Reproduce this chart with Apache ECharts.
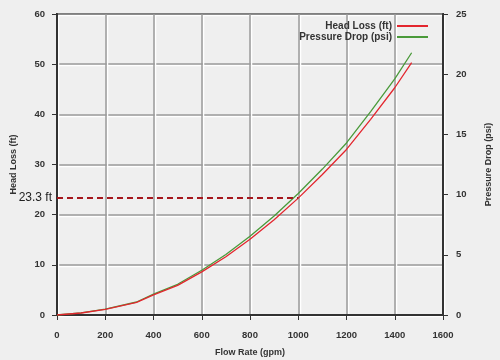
<!DOCTYPE html>
<html>
<head>
<meta charset="utf-8">
<script src="https://cdn.jsdelivr.net/npm/echarts@6/dist/echarts.min.js"></script>
<style>
html,body{margin:0;padding:0;background:#efefef;}
#c{width:500px;height:360px;}
</style>
</head>
<body>
<div id="c"></div>
<script>
var flowRate = [0, 100, 200, 330, 400, 500, 600, 700, 800, 900, 1000, 1100, 1200, 1300, 1400, 1470];
var headLoss = [0, 0.4, 1.1, 2.5, 4.0, 5.9, 8.6, 11.6, 15.1, 19.0, 23.3, 28.0, 33.0, 39.0, 45.3, 50.3];
var pressureDrop = [0, 0.17, 0.48, 1.08, 1.73, 2.55, 3.72, 5.02, 6.54, 8.23, 10.09, 12.12, 14.29, 16.89, 19.61, 21.78];
var markFlow = 1000;
var markHead = 23.3;
var markLabel = '23.3 ft';
var seriesNames = ['Head Loss (ft)', 'Pressure Drop (psi)'];

function pairs(xs, ys){ return xs.map(function(x,i){ return [x, ys[i]]; }); }

var font = 'Liberation Sans, Arial, sans-serif';
var tickText = {fontFamily: font, fontSize: 9.5, fontWeight: 'bold', color: '#333'};
var nameText = {fontFamily: font, fontSize: 9, fontWeight: 'bold', color: '#333'};
var gridSplit = {show: true, lineStyle: {color: '#9a9a9a', width: 1.5, shadowColor: '#ffffff', shadowOffsetX: 1.5, shadowOffsetY: 1.5}};
var chart = echarts.init(document.getElementById('c'));
chart.setOption({
  backgroundColor: '#efefef',
  animation: false,
  grid: {left: 57, right: 57, top: 14, bottom: 45, show: true, borderColor: '#333', borderWidth: 2, containLabel: false, outerBoundsMode: 'none'},
  legend: {
    orient: 'vertical', right: 67, top: 16, align: 'right', itemGap: 1,
    itemWidth: 31, itemHeight: 2, icon: 'rect',
    textStyle: {fontFamily: font, fontSize: 10, fontWeight: 'bold', color: '#333'},
    data: seriesNames
  },
  xAxis: {
    type: 'value', min: 0, max: 1600, interval: 200,
    name: 'Flow Rate (gpm)', nameLocation: 'middle', nameGap: 33,
    nameTextStyle: nameText,
    axisLine: {show: true, lineStyle: {color: '#333', width: 2}},
    axisTick: {show: true, length: 5, lineStyle: {color: '#333'}},
    axisLabel: Object.assign({margin: 15, formatter: function(v){ return String(v); }}, tickText),
    splitLine: gridSplit
  },
  yAxis: [{
    type: 'value', min: 0, max: 60, interval: 10,
    name: 'Head Loss (ft)', nameLocation: 'middle', nameGap: 39, nameRotate: 90,
    nameTextStyle: nameText,
    axisLine: {show: true, lineStyle: {color: '#333', width: 2}},
    axisTick: {show: true, length: 5, lineStyle: {color: '#333'}},
    axisLabel: Object.assign({margin: 12}, tickText),
    splitLine: gridSplit
  }, {
    type: 'value', min: 0, max: 25, interval: 5, position: 'right',
    name: 'Pressure Drop (psi)', nameLocation: 'middle', nameGap: 41, nameRotate: 90,
    nameTextStyle: nameText,
    axisLine: {show: true, lineStyle: {color: '#333', width: 2}},
    axisTick: {show: true, length: 5, lineStyle: {color: '#333'}},
    axisLabel: Object.assign({margin: 13}, tickText),
    splitLine: {show: false}
  }],
  series: [{
    name: seriesNames[0], type: 'line', yAxisIndex: 0, symbol: 'none', z: 3,
    color: '#e3262e',
    lineStyle: {color: '#e3262e', width: 1.3},
    data: pairs(flowRate, headLoss),
    markLine: {
      symbol: 'none', silent: true,
      lineStyle: {color: '#a5161c', width: 2, type: [6, 4]},
      label: {show: true, position: 'start', formatter: markLabel, fontFamily: font, fontSize: 12, color: '#222', offset: [0, 0], distance: 5},
      data: [[{coord: [0, markHead]}, {coord: [markFlow, markHead]}]]
    }
  }, {
    name: seriesNames[1], type: 'line', yAxisIndex: 1, symbol: 'none', z: 2,
    color: '#4a9a3a',
    lineStyle: {color: '#4a9a3a', width: 1.3},
    data: pairs(flowRate, pressureDrop)
  }]
});
</script>
</body>
</html>
